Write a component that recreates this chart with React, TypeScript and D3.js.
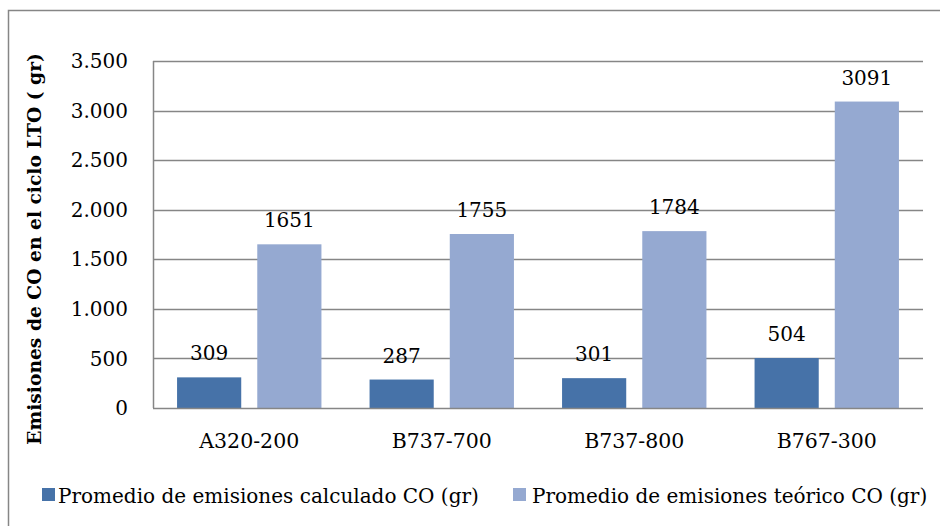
import { useEffect, useRef } from "react";
import * as d3 from "d3";

const categories = ["A320-200", "B737-700", "B737-800", "B767-300"];
const calculado = [309, 287, 301, 504];
const teorico = [1651, 1755, 1784, 3091];
const seriesNames = [
  "Promedio de emisiones calculado CO (gr)",
  "Promedio de emisiones teórico CO (gr)",
];
const yTicks = [0, 500, 1000, 1500, 2000, 2500, 3000, 3500];
const yTitle = "Emisiones de CO en el ciclo LTO ( gr)";

const colors = ["#4672a8", "#95a9d1"];
const font = "'DejaVu Serif', serif";

const App = () => {
  const svgRef = useRef<SVGSVGElement>(null);
  const width = 940;
  const height = 526;
  const margin = { top: 61, right: 17, bottom: 118, left: 153 };

  useEffect(() => {
    const svg = d3.select(svgRef.current);
    svg.selectAll("*").remove();

    // outer frame
    svg
      .append("rect")
      .attr("x", 8.5)
      .attr("y", 10.5)
      .attr("width", 960)
      .attr("height", 560)
      .attr("fill", "#fff")
      .attr("stroke", "#868686")
      .attr("stroke-width", 1.5);

    const x0 = d3
      .scaleBand()
      .domain(categories)
      .range([margin.left, width - margin.right]);

    const x1 = d3
      .scaleBand()
      .domain(["calc", "teor"])
      .range([0, x0.bandwidth()])
      .paddingInner(0.2)
      .paddingOuter(0.3);

    const y = d3
      .scaleLinear()
      .domain([0, 3500])
      .range([height - margin.bottom, margin.top]);

    // gridlines
    svg
      .append("g")
      .selectAll("line")
      .data(yTicks.slice(1))
      .enter()
      .append("line")
      .attr("x1", margin.left)
      .attr("x2", width - margin.right)
      .attr("y1", (d) => Math.round(y(d)) + 0.5)
      .attr("y2", (d) => Math.round(y(d)) + 0.5)
      .attr("stroke", "#868686")
      .attr("stroke-width", 1.5);

    // y tick labels
    svg
      .append("g")
      .selectAll("text")
      .data(yTicks)
      .enter()
      .append("text")
      .attr("x", 128)
      .attr("y", (d) => y(d))
      .attr("dy", "0.36em")
      .attr("text-anchor", "end")
      .attr("font-family", font)
      .attr("font-size", 20)
      .attr("fill", "#000")
      .text((d) => d3.format(",")(d).replace(/,/g, "."));

    const groups = svg
      .append("g")
      .selectAll("g")
      .data(categories)
      .enter()
      .append("g")
      .attr("transform", (d) => `translate(${x0(d)},0)`);

    const series = [
      { key: "calc", values: calculado },
      { key: "teor", values: teorico },
    ];

    series.forEach((s, si) => {
      groups
        .append("rect")
        .attr("x", x1(s.key)!)
        .attr("width", x1.bandwidth())
        .attr("y", (_, i) => y(s.values[i]))
        .attr("height", (_, i) => y(0) - y(s.values[i]))
        .attr("fill", colors[si]);

      groups
        .append("text")
        .attr("x", x1(s.key)! + x1.bandwidth() / 2)
        .attr("y", (_, i) => y(s.values[i]) - 17)
        .attr("text-anchor", "middle")
        .attr("font-family", font)
        .attr("font-size", 20)
        .attr("fill", "#000")
        .text((_, i) => s.values[i]);
    });

    // axes lines
    svg
      .append("line")
      .attr("x1", margin.left + 0.5)
      .attr("x2", margin.left + 0.5)
      .attr("y1", margin.top)
      .attr("y2", y(0))
      .attr("stroke", "#868686")
      .attr("stroke-width", 1.5);
    svg
      .append("line")
      .attr("x1", margin.left)
      .attr("x2", width - margin.right)
      .attr("y1", y(0) + 0.5)
      .attr("y2", y(0) + 0.5)
      .attr("stroke", "#868686")
      .attr("stroke-width", 1.5);

    // category labels
    svg
      .append("g")
      .selectAll("text")
      .data(categories)
      .enter()
      .append("text")
      .attr("x", (d) => x0(d)! + x0.bandwidth() / 2)
      .attr("y", 448)
      .attr("text-anchor", "middle")
      .attr("font-family", font)
      .attr("font-size", 20.5)
      .attr("fill", "#000")
      .text((d) => d);

    // y title
    svg
      .append("text")
      .attr("transform", "translate(41,249) rotate(-90)")
      .attr("text-anchor", "middle")
      .attr("font-family", font)
      .attr("font-weight", "bold")
      .attr("font-size", 18.7)
      .attr("fill", "#000")
      .text(yTitle);

    // legend
    const legendX = [42, 513];
    const legendTextX = [58, 532];
    seriesNames.forEach((name, i) => {
      svg
        .append("rect")
        .attr("x", legendX[i])
        .attr("y", 488)
        .attr("width", 13)
        .attr("height", 13)
        .attr("fill", colors[i]);
      svg
        .append("text")
        .attr("x", legendTextX[i])
        .attr("y", 503)
        .attr("font-family", font)
        .attr("font-size", 20)
        .attr("fill", "#000")
        .text(name);
    });
  }, []);

  return (
    <svg
      ref={svgRef}
      width={width}
      height={height}
      style={{ position: "absolute", left: 0, top: 0, display: "block" }}
    />
  );
};

export default App;
